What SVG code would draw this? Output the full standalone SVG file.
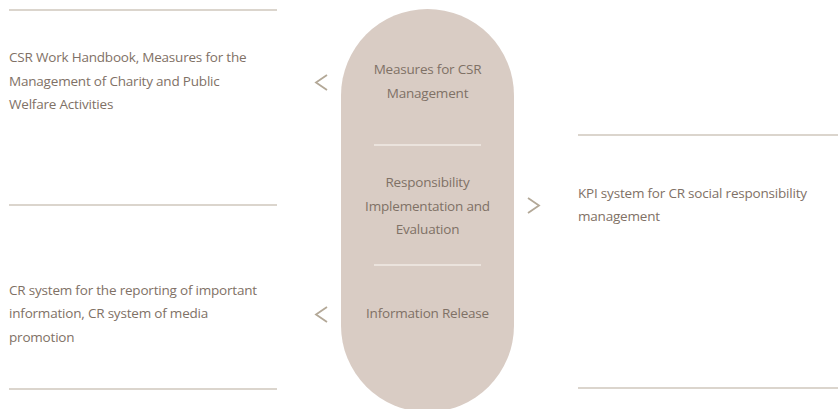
<svg xmlns="http://www.w3.org/2000/svg" width="838" height="409" viewBox="0 0 838 409">
<style>
.t{font-family:"Open Sans","Liberation Sans",sans-serif;font-size:13.5px;fill:#7f7166;letter-spacing:-0.2px}
.c{text-anchor:middle}
.rule{stroke:#cfc7bd;stroke-width:1.3}
.div{stroke:#f1ebe6;stroke-width:1.3}
.chev{fill:none;stroke:#b3a897;stroke-width:1.8}
</style>
<rect width="838" height="409" fill="#ffffff"/>
<g id="pill">
<rect x="341" y="9" width="173" height="403" rx="86.5" fill="#d9ccc4"/>
<line class="div" x1="374" y1="145" x2="481" y2="145"/>
<line class="div" x1="374" y1="265" x2="481" y2="265"/>
<text class="t c" x="427.5" y="74">Measures for CSR</text>
<text class="t c" x="427.5" y="98">Management</text>
<text class="t c" x="427.5" y="187">Responsibility</text>
<text class="t c" x="427.5" y="211">Implementation and</text>
<text class="t c" x="427.5" y="234">Evaluation</text>
<text class="t c" x="427.5" y="318">Information Release</text>
</g>
<g id="node-top-left">
<line class="rule" x1="9" y1="10" x2="277" y2="10"/>
<text class="t" x="9" y="62">CSR Work Handbook, Measures for the</text>
<text class="t" x="9" y="86">Management of Charity and Public</text>
<text class="t" x="9" y="109">Welfare Activities</text>
<line class="rule" x1="9" y1="205" x2="277" y2="205"/>
</g>
<g id="node-bottom-left">
<text class="t" x="9" y="295">CR system for the reporting of important</text>
<text class="t" x="9" y="318">information, CR system of media</text>
<text class="t" x="9" y="342">promotion</text>
<line class="rule" x1="9" y1="389" x2="277" y2="389"/>
</g>
<g id="node-right">
<line class="rule" x1="578" y1="135" x2="838" y2="135"/>
<text class="t" x="578" y="198">KPI system for CR social responsibility</text>
<text class="t" x="578" y="221">management</text>
<line class="rule" x1="578" y1="388" x2="838" y2="388"/>
</g>
<g id="connectors">
<polyline class="chev" points="327,75 316,82.5 327,90"/>
<polyline class="chev" points="528,198 539,205.5 528,213"/>
<polyline class="chev" points="327,307 316,314.5 327,322"/>
</g>
</svg>
